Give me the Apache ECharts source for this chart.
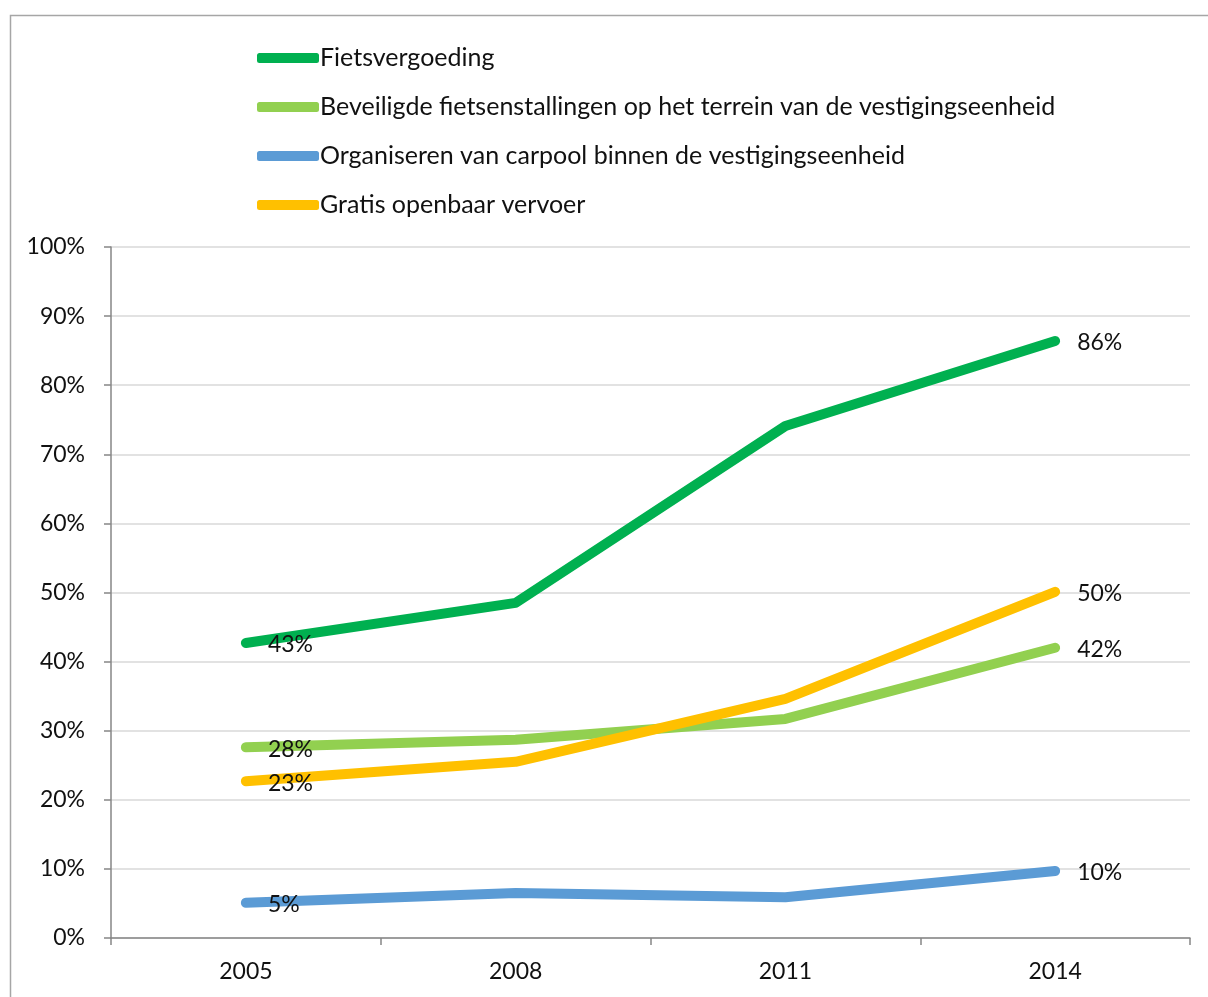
<!DOCTYPE html>
<html>
<head>
<meta charset="utf-8">
<script src="https://cdn.jsdelivr.net/npm/echarts@6/dist/echarts.min.js"></script>
<style>
  html, body { margin: 0; padding: 0; background: #fff; }
  #chart { width: 1208px; height: 997px; }
</style>
</head>
<body>
<div id="chart"></div>
<script>
// Survey years on the category axis
const years = ['2005', '2008', '2011', '2014'];

// Share of establishments offering each measure (%)
const fietsvergoeding = [42.7, 48.5, 74.1, 86.4];
const beveiligdeStallingen = [27.6, 28.7, 31.7, 42.0];
const carpool = [5.1, 6.5, 5.9, 9.7];
const gratisOV = [22.7, 25.5, 34.6, 50.1];

const seriesNames = [
  'Fietsvergoeding',
  'Beveiligde fietsenstallingen op het terrein van de vestigingseenheid',
  'Organiseren van carpool binnen de vestigingseenheid',
  'Gratis openbaar vervoer'
];
const seriesValues = [fietsvergoeding, beveiligdeStallingen, carpool, gratisOV];
const colors = ['#00B050', '#92D050', '#5B9BD5', '#FFC000'];

const FONT = 'Lato, "Open Sans", sans-serif';
const TEXT = '#111';

const chart = echarts.init(document.getElementById('chart'));

// Only the first and last point of each line carry a value label
function endLabel(p) {
  const last = years.length - 1;
  if (p.dataIndex === 0 || p.dataIndex === last) {
    return Math.round(p.value) + '%';
  }
  return '';
}

const series = seriesNames.map((name, i) => ({
  name: name,
  type: 'line',
  data: seriesValues[i],
  color: colors[i],
  symbol: 'circle',
  symbolSize: 2,
  showSymbol: true,
  lineStyle: { width: 10, color: colors[i], cap: 'round', join: 'round' },
  itemStyle: { color: colors[i] },
  label: {
    show: true,
    position: 'right',
    distance: 21,
    offset: [0, 2],
    formatter: endLabel,
    color: TEXT,
    fontFamily: FONT,
    fontSize: 23
  },
  emphasis: { disabled: true },
  z: 2 + i
}));

chart.setOption({
  animation: false,
  backgroundColor: '#fff',
  graphic: [{
    type: 'rect',
    left: 8,
    top: 13,
    shape: { width: 1300, height: 1100 },
    style: { fill: 'none', stroke: '#A6A6A6', lineWidth: 1.5 },
    silent: true,
    z: -1
  }],
  legend: {
    orient: 'vertical',
    left: 257,
    top: 43,
    padding: 0,
    itemWidth: 62,
    itemHeight: 10,
    itemGap: 19,
    icon: 'roundRect',
    data: seriesNames,
    textStyle: {
      color: TEXT,
      fontFamily: FONT,
      fontSize: 25,
      lineHeight: 30,
      padding: [0, 0, 0, -4]
    },
    selectedMode: false
  },
  grid: {
    left: 111,
    right: 18,
    top: 247,
    bottom: 59,
    containLabel: false
  },
  xAxis: {
    type: 'category',
    data: years,
    boundaryGap: true,
    axisLine: { show: true, lineStyle: { color: '#868686', width: 1.5 } },
    axisTick: { show: true, length: 7, alignWithLabel: false, lineStyle: { color: '#868686', width: 1.5 } },
    axisLabel: { color: TEXT, fontFamily: FONT, fontSize: 23, margin: 22 },
    splitLine: { show: false }
  },
  yAxis: {
    type: 'value',
    min: 0,
    max: 100,
    interval: 10,
    axisLine: { show: true, lineStyle: { color: '#868686', width: 1.5 } },
    axisTick: { show: true, length: 7, lineStyle: { color: '#868686', width: 1.5 } },
    axisLabel: { color: TEXT, fontFamily: FONT, fontSize: 23, margin: 26, formatter: '{value}%' },
    splitLine: { show: true, lineStyle: { color: '#D9D9D9', width: 1.5 } }
  },
  series: series
});
</script>
</body>
</html>
